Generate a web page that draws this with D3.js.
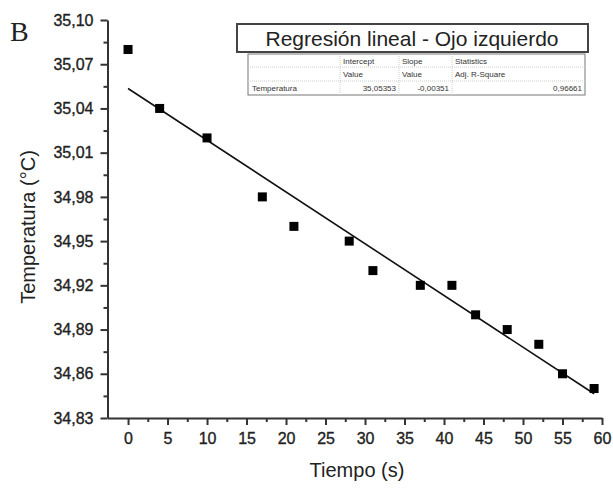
<!DOCTYPE html>
<html>
<head>
<meta charset="utf-8">
<script src="https://cdn.jsdelivr.net/npm/d3@7"></script>
<style>
  body { margin: 0; background: #fff; }
  text { font-family: "Liberation Sans", Arial, sans-serif; fill: #222; }
  .tick text { font-size: 16px; stroke: #222; stroke-width: 0.35px; }
</style>
</head>
<body>
<div class="chart"></div>
<script>
// data
let tiempo = [0, 4, 10, 17, 21, 28, 31, 37, 41, 44, 48, 52, 55, 59];
let temperatura = [35.08, 35.04, 35.02, 34.98, 34.96, 34.95, 34.93, 34.92, 34.92, 34.90, 34.89, 34.88, 34.86, 34.85];
let xTicks = [0, 5, 10, 15, 20, 25, 30, 35, 40, 45, 50, 55, 60];
let yTicks = [34.83, 34.86, 34.89, 34.92, 34.95, 34.98, 35.01, 35.04, 35.07, 35.10];
let intercept = 35.05353;
let slope = -0.00351;
let tableHead1 = ["", "Intercept", "Slope", "Statistics"];
let tableHead2 = ["", "Value", "Value", "Adj. R-Square"];
let tableRow = ["Temperatura", "35,05353", "-0,00351", "0,96661"];

let svgWidth = 613;
let svgHeight = 493;

let svg = d3.select(".chart")
  .append("svg")
  .attr("width", svgWidth)
  .attr("height", svgHeight);

// scales
let x = d3.scaleLinear().domain([-2.6, 60]).range([107.5, 602]);
let y = d3.scaleLinear().domain([34.83, 35.10]).range([418, 20]);

let fmt = d => d3.format(".2f")(d).replace(".", ",");

// minor ticks first (under the majors)
let xMinor = d3.range(2.5, 60, 5);
let yMinor = d3.range(0, 9).map(i => 34.845 + i * 0.03);

let axisColor = "#333";

svg.append("g")
  .attr("transform", `translate(0, ${y(34.83)})`)
  .call(d3.axisBottom(x).tickValues(xMinor).tickSize(4).tickFormat(""))
  .call(g => g.select(".domain").remove())
  .call(g => g.selectAll("line").attr("stroke", axisColor).attr("stroke-width", 2));

svg.append("g")
  .attr("transform", `translate(${x(-2.6)}, 0)`)
  .call(d3.axisLeft(y).tickValues(yMinor).tickSize(4).tickFormat(""))
  .call(g => g.select(".domain").remove())
  .call(g => g.selectAll("line").attr("stroke", axisColor).attr("stroke-width", 2));

// x axis
let xAxis = svg.append("g")
  .attr("transform", `translate(0, ${y(34.83)})`)
  .call(d3.axisBottom(x).tickValues(xTicks).tickSize(7).tickSizeOuter(0).tickPadding(8));
xAxis.select(".domain").attr("stroke", axisColor).attr("stroke-width", 2);
xAxis.selectAll(".tick line").attr("stroke", axisColor).attr("stroke-width", 2);

// y axis
let yAxis = svg.append("g")
  .attr("transform", `translate(${x(-2.6)}, 0)`)
  .call(d3.axisLeft(y).tickValues(yTicks).tickFormat(fmt).tickSize(7).tickSizeOuter(0).tickPadding(7));
yAxis.select(".domain").attr("stroke", axisColor).attr("stroke-width", 2);
yAxis.selectAll(".tick line").attr("stroke", axisColor).attr("stroke-width", 2);

// regression line
svg.append("line")
  .attr("x1", x(0))
  .attr("y1", y(intercept))
  .attr("x2", x(59))
  .attr("y2", y(intercept + slope * 59))
  .attr("stroke", "#111")
  .attr("stroke-width", 1.6);

// points
let size = 9;
svg.selectAll("rect.pt")
  .data(tiempo)
  .enter()
  .append("rect")
  .attr("class", "pt")
  .attr("x", (d, i) => x(d) - size / 2)
  .attr("y", (d, i) => y(temperatura[i]) - size / 2)
  .attr("width", size)
  .attr("height", size)
  .attr("fill", "#000");

// axis labels
svg.append("text")
  .attr("x", 357)
  .attr("y", 477)
  .attr("text-anchor", "middle")
  .style("font-size", "20px")
  .text("Tiempo (s)");

svg.append("text")
  .attr("transform", "rotate(-90)")
  .attr("x", -227)
  .attr("y", 35)
  .attr("text-anchor", "middle")
  .style("font-size", "20px")
  .text("Temperatura (°C)");

// panel letter
svg.append("text")
  .attr("x", 10)
  .attr("y", 41)
  .style("font-family", "'Liberation Serif', 'DejaVu Serif', serif")
  .style("font-size", "28px")
  .text("B");

// title box
svg.append("rect")
  .attr("x", 237)
  .attr("y", 24)
  .attr("width", 351)
  .attr("height", 28)
  .attr("fill", "#fff")
  .attr("stroke", "#444")
  .attr("stroke-width", 2);

svg.append("text")
  .attr("x", 412)
  .attr("y", 46)
  .attr("text-anchor", "middle")
  .style("font-size", "21px")
  .text("Regresión lineal - Ojo izquierdo");

// stats table
let tbl = svg.append("g");
let colX = [248, 340, 399, 452, 585];
let rowY = [54, 67, 81, 95];

tbl.append("rect")
  .attr("x", colX[0]).attr("y", rowY[0])
  .attr("width", colX[4] - colX[0]).attr("height", rowY[3] - rowY[0])
  .attr("fill", "#fff").attr("stroke", "#777").attr("stroke-width", 1);

[rowY[1], rowY[2]].forEach(ry => {
  tbl.append("line")
    .attr("x1", colX[0]).attr("x2", colX[4])
    .attr("y1", ry).attr("y2", ry)
    .attr("stroke", "#ccc").attr("stroke-dasharray", "1,1");
});
[colX[1], colX[2], colX[3]].forEach(cx => {
  tbl.append("line")
    .attr("x1", cx).attr("x2", cx)
    .attr("y1", rowY[0]).attr("y2", rowY[3])
    .attr("stroke", "#ccc").attr("stroke-dasharray", "1,1");
});

[tableHead1, tableHead2].forEach((row, r) => {
  row.forEach((t, c) => {
    tbl.append("text")
      .attr("x", colX[c] + 3)
      .attr("y", rowY[r] + 10)
      .style("font-size", "8px")
      .style("fill", "#333")
      .text(t);
  });
});
tableRow.forEach((t, c) => {
  tbl.append("text")
    .attr("x", c === 0 ? colX[0] + 4 : colX[c + 1] - 3)
    .attr("y", rowY[2] + 10)
    .attr("text-anchor", c === 0 ? "start" : "end")
    .style("font-size", "8px")
    .style("fill", "#333")
    .text(t);
});
</script>
</body>
</html>
